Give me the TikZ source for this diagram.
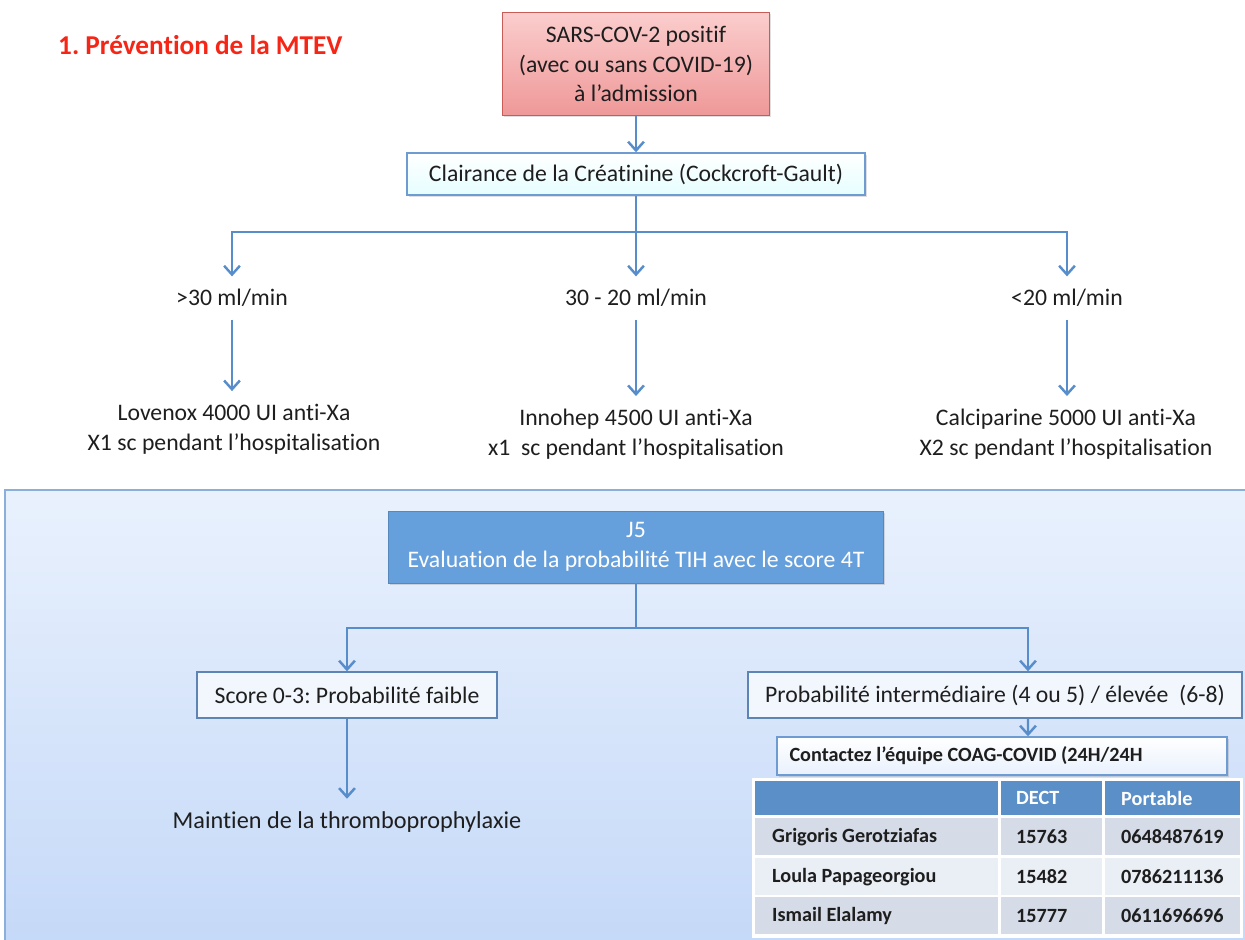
\documentclass[tikz,border=0pt]{standalone}
\usepackage{fontspec}
\setmainfont{Carlito}[Ligatures={TeX,NoCommon}]
\usetikzlibrary{arrows.meta, shadows}

\definecolor{titlered}{RGB}{246,38,22}
\definecolor{arrowblue}{RGB}{88,141,203}
\definecolor{rosetop}{RGB}{251,205,205}
\definecolor{rosebot}{RGB}{239,152,152}
\definecolor{roseline}{RGB}{200,92,88}
\definecolor{boxline}{RGB}{110,155,210}
\definecolor{paneltop}{RGB}{233,241,253}
\definecolor{panelbot}{RGB}{197,217,248}
\definecolor{jfill}{RGB}{102,160,220}
\definecolor{headblue}{RGB}{91,143,200}
\definecolor{rowdark}{RGB}{213,220,232}
\definecolor{rowlight}{RGB}{234,238,245}
\definecolor{ink}{RGB}{30,30,30}

\newcommand\bodyfont{\fontsize{13.5}{17}\selectfont}
\newcommand\tabfont{\fontsize{11.5}{13}\selectfont\bfseries}

\tikzset{
  arr/.style={draw=arrowblue, line width=1.4pt, -{Straight Barb[length=5pt,width=9pt]}},
  link/.style={draw=arrowblue, line width=1.4pt},
  lbl/.style={text=ink, font=\bodyfont, align=center, outer ysep=4pt},
  softshadow/.style={drop shadow={opacity=0.25, shadow xshift=1pt, shadow yshift=-1pt}},
  startbox/.style={draw=roseline, line width=0.8pt, top color=rosetop, bottom color=rosebot,
    text=ink, font=\bodyfont, align=center, minimum width=5.34cm, minimum height=2.06cm, softshadow},
  clearbox/.style={draw=boxline, line width=0.8pt, top color=white, bottom color=blue!6!cyan!10,
    text=ink, font=\bodyfont, minimum width=9.16cm, minimum height=0.84cm, softshadow},
  dayboxj/.style={fill=jfill, draw=jfill!85!black, line width=0.4pt, text=white, font=\bodyfont,
    align=center, minimum width=9.9cm, minimum height=1.44cm, softshadow},
  scorebox/.style={draw=boxline!85!black, line width=0.8pt, fill=white!40!paneltop,
    text=ink, font=\bodyfont, minimum height=0.92cm},
  cell/.style={text=ink, font=\tabfont, anchor=west}
}

\begin{document}
\frenchspacing
\begin{tikzpicture}[x=0.02cm, y=-0.02cm]
    \useasboundingbox (0,0) rectangle (1245,940);

    % titre
    \node[anchor=west, text=titlered, font=\fontsize{15.5}{18}\selectfont\bfseries] (title) at (52,45) {1. Prévention de la MTEV};

    % partie haute : clairance
    \node[startbox] (start) at (636,64) {SARS-COV-2 positif\\(avec ou sans COVID-19)\\à l’admission};
    \node[clearbox] (clair) at (636,174) {Clairance de la Créatinine (Cockcroft-Gault)};
    \coordinate (split1) at (636,232);

    \node[lbl] (lbl1) at (232,298) {>30 ml/min};
    \node[lbl] (lbl2) at (636,298) {30 - 20 ml/min};
    \node[lbl] (lbl3) at (1067,298) {<20 ml/min};

    \node[lbl] (dose1) at (234,429) {Lovenox 4000 UI anti-Xa\\X1 sc pendant l’hospitalisation};
    \node[lbl] (dose2) at (636,434) {Innohep 4500 UI anti-Xa\\x1~ sc pendant l’hospitalisation};
    \node[lbl] (dose3) at (1066,434) {Calciparine 5000 UI anti-Xa\\X2 sc pendant l’hospitalisation};

    \draw[arr] (start) -- (clair);
    \draw[link] (clair.south) -- (split1);
    \draw[arr] (split1) -| (lbl1);
    \draw[arr] (split1) -- (lbl2);
    \draw[arr] (split1) -| (lbl3);
    \draw[arr] (lbl1) -- (lbl1 |- dose1.north);
    \draw[arr] (lbl2) -- (dose2);
    \draw[arr] (lbl3) -- (lbl3 |- dose3.north);

    % partie basse : J5
    \shade[top color=paneltop, bottom color=panelbot] (5,490) rectangle (1245,940);
    \draw[boxline!80, line width=1.5pt] (5,940) -- (5,490) -- (1245,490);

    \node[dayboxj] (jfive) at (636,547) {J5\\Evaluation de la probabilité TIH avec le score 4T};
    \coordinate (split2) at (636,628);
    \node[scorebox, minimum width=6cm] (score) at (347,695) {Score 0-3: Probabilité faible};
    \node[scorebox, minimum width=9.88cm] (prob) at (995,695) {Probabilité intermédiaire (4 ou 5) / élevée~ (6-8)};
    \node[lbl, font=\fontsize{13.8}{17}\selectfont] (keep) at (347,822) {Maintien de la thromboprophylaxie};
    \node[draw=boxline, line width=0.8pt, top color=white, bottom color=paneltop, softshadow,
          text=ink, font=\fontsize{11.5}{13}\selectfont\bfseries, minimum width=9cm, minimum height=0.76cm,
          text width=8.5cm, align=flush left] (contact) at (1002,756) {Contactez l’équipe COAG-COVID (24H/24H};

    \draw[link] (jfive.south) -- (split2);
    \draw[arr] (split2) -| (score);
    \draw[arr] (split2) -| ([xshift=0.66cm]prob.north);
    \draw[arr] (score) -- (keep);
    \draw[arr] ([xshift=0.66cm]prob.south) -- ([xshift=0.52cm]contact.north);

    % tableau des contacts
    \fill[white] (752,778) rectangle (1243,938);
    \fill[headblue] (755,781) rectangle (998,815);
    \fill[headblue] (1001,781) rectangle (1102,815);
    \fill[headblue] (1105,781) rectangle (1240,815);
    \node[cell, text=white] (dect) at (1010,798) {DECT};
    \node[cell, text=white] (portable) at (1115,798) {Portable};
    \foreach \nm/\dc/\pt/\yy/\rowcol [count=\i] in
        {Grigoris Gerotziafas/15763/0648487619/837/rowdark,
         Loula Papageorgiou/15482/0786211136/877/rowlight,
         Ismail Elalamy/15777/0611696696/916/rowdark} {
        \fill[\rowcol] (755,\yy-19) rectangle (998,\yy+18);
        \fill[\rowcol] (1001,\yy-19) rectangle (1102,\yy+18);
        \fill[\rowcol] (1105,\yy-19) rectangle (1240,\yy+18);
        \node[cell] (name\i) at (766,\yy) {\nm};
        \node[cell] (dect\i) at (1010,\yy) {\dc};
        \node[cell] (port\i) at (1115,\yy) {\pt};
    }
\end{tikzpicture}
\end{document}
